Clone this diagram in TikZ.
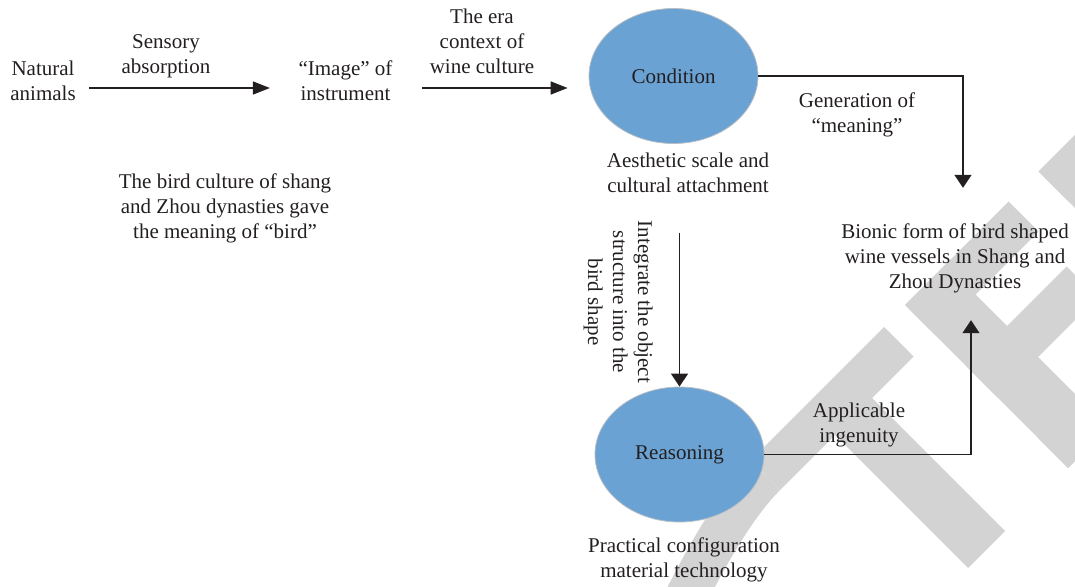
\documentclass[tikz,border=0pt]{standalone}
\usepackage{fontspec}
\setmainfont{Liberation Serif}
\usetikzlibrary{shapes.geometric,arrows.meta}
\definecolor{ink}{RGB}{35,31,32}
\definecolor{bubblefill}{RGB}{106,162,211}
\definecolor{bubbleedge}{RGB}{185,190,196}
\definecolor{wmgrey}{RGB}{211,211,211}
\begin{document}
\begin{tikzpicture}[x=1pt,y=-1pt,
  every node/.style={inner sep=0pt,text=ink},
  lbl/.style={align=center,font=\fontsize{21}{25}\selectfont},
  bubble/.style={ellipse,minimum width=169pt,minimum height=135pt,
    fill=bubblefill,draw=bubbleedge,line width=0.8pt,
    font=\fontsize{21}{25}\selectfont},
  conn/.style={draw=ink,line width=1.5pt},
  harrow/.style={conn,-{Triangle[length=17pt,width=13pt]}},
  varrow/.style={conn,-{Triangle[length=13pt,width=17pt]}},
  wm/.style={fill=wmgrey}]
\useasboundingbox (0,0) rectangle (1075,586);

% diagonal grey watermark strokes, drawn underneath everything else
\begin{scope}
  \clip (0,0) rectangle (1075,586);
  % rotated frame: first coordinate runs down-right, second up-right
  \begin{scope}[x={(0.5pt,-0.5pt)},y={(0.5pt,0.5pt)}]
    \fill[wm] (1211,290) -- (1211,557) -- (1270,557) -- (1270,290) -- cycle;
    \fill[wm] (1240,400) -- (1240,474) -- (1536,474) -- (1536,400) -- cycle;
    \fill[wm] (1210,600) -- (1210,807) -- (1270,807) -- (1270,600) -- cycle;
    \fill[wm] (1210,600) -- (1210,681) -- (1536,681) -- (1536,600) -- cycle;
    \fill[wm] (1333,600) -- (1333,800) -- (1395,800) -- (1395,600) -- cycle;
    \fill[wm] (1476,600) -- (1476,810) -- (1536,810) -- (1536,600) -- cycle;
    \fill[wm] (1210,867) -- (1210,946) -- (1536,946) -- (1536,867) -- cycle;
    \fill[wm] (1210,867) -- (1210,1000) -- (1270,1000) -- (1270,867) -- cycle;
  \end{scope}
  \draw[draw=wmgrey,line width=42pt]
    (765.25,475.25) .. controls (733,507) and (702,565) .. (682,605);
\end{scope}

% labels and the two stages
\node[lbl] (nat) at (43,82.5) {\strut Natural\\\strut animals};
\node[lbl] (sens) at (166,56.5) {\strut Sensory\\\strut absorption};
\node[lbl] (img) at (345.5,82.5) {\strut “Image” of\\\strut instrument};
\node[lbl] (era) at (482,44) {\strut The era\\\strut context of\\\strut wine culture};
\node[bubble] (cond) at (673.5,76) {Condition};
\node[lbl] (aes) at (688,174.5) {\strut Aesthetic scale and\\\strut cultural attachment};
\node[lbl] (gen) at (857,114.5) {\strut Generation of\\\strut “meaning”};
\node[lbl] (bio) at (955,258) {\strut Bionic form of bird shaped\\\strut wine vessels in Shang and\\\strut Zhou Dynasties};
\node[lbl,rotate=-90] (integ) at (618,302) {\strut Integrate the object\\\strut structure into the\\\strut bird shape};
\node[bubble] (rea) at (679.5,454.5) {Reasoning};
\node[lbl] (app) at (859,424.5) {\strut Applicable\\\strut ingenuity};
\node[lbl] (prac) at (684,559.5) {\strut Practical configuration\\\strut material technology};
\node[lbl] (birdc) at (225,208) {\strut The bird culture of shang\\\strut and Zhou dynasties gave\\\strut the meaning of “bird”};

% connectors
\coordinate (row) at (0,88);
\draw[harrow,shorten <=13.5pt,shorten >=28.5pt] (nat.east |- row) -- (img.west |- row);
\draw[harrow,shorten <=29.5pt,shorten >=21pt] (img.east |- row) -- (cond.west |- row);
\draw[varrow,shorten >=32.5pt] (cond.east) -| ([xshift=8pt]bio.north);
\draw[varrow,shorten <=89pt] (cond.south -| rea.north) -- (rea.north);
\draw[varrow,shorten >=24.5pt] (rea.east) -| ([xshift=16pt]bio.south);
\end{tikzpicture}
\end{document}
